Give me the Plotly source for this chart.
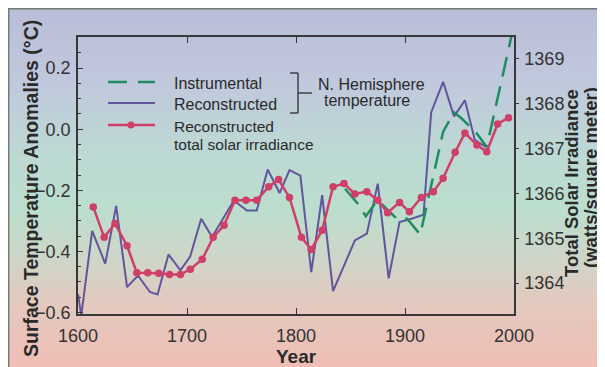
import base64
import plotly.graph_objects as go

# ---------------- data ----------------
recon_years = [1600, 1603, 1613, 1625, 1635, 1645, 1655, 1666, 1673, 1683, 1694, 1703,
               1713, 1723, 1733, 1743, 1755, 1764, 1774, 1785, 1794, 1804, 1814, 1824,
               1834, 1854, 1865, 1875, 1885, 1895, 1906, 1917, 1924, 1935, 1945, 1955,
               1964, 1974]
recon_temp = [-0.54, -0.61, -0.333, -0.44, -0.251, -0.517, -0.479, -0.533, -0.541, -0.41,
              -0.462, -0.416, -0.293, -0.353, -0.293, -0.233, -0.266, -0.266, -0.132,
              -0.209, -0.134, -0.152, -0.468, -0.216, -0.53, -0.364, -0.342, -0.178,
              -0.488, -0.304, -0.293, -0.28, 0.055, 0.155, 0.042, 0.095, -0.035, -0.058]

instr_years = [1845, 1857, 1864, 1875, 1893, 1902, 1914, 1935, 1945, 1952, 1965, 1975, 1998]
instr_temp = [-0.195, -0.245, -0.285, -0.232, -0.295, -0.293, -0.345, -0.008, 0.055,
              0.035, -0.01, -0.058, 0.31]

solar_years = [1614, 1624, 1634, 1645, 1654, 1664, 1674, 1684, 1694, 1703, 1714, 1724,
               1734, 1744, 1754, 1764, 1775, 1784, 1794, 1805, 1814, 1824, 1834, 1844,
               1854, 1865, 1875, 1884, 1895, 1904, 1915, 1926, 1935, 1946, 1955, 1966,
               1975, 1985, 1995]
solar_tsi = [1365.70, 1365.02, 1365.33, 1364.83, 1364.23, 1364.23, 1364.22, 1364.19,
             1364.19, 1364.31, 1364.53, 1365.02, 1365.29, 1365.85, 1365.85, 1365.85,
             1366.15, 1366.31, 1365.91, 1365.02, 1364.75, 1365.18, 1366.15, 1366.22,
             1365.99, 1366.04, 1365.85, 1365.57, 1365.80, 1365.59, 1365.91, 1366.04,
             1366.34, 1366.92, 1367.35, 1367.08, 1366.93, 1367.55, 1367.69]

x_ticks = [1600, 1700, 1800, 1900, 2000]
tsi_ticks = [1364, 1365, 1366, 1367, 1368, 1369]

# ---------------- styling ----------------
OFF = 8                      # browser body margin
PAGE_W, PAGE_H = 605, 367
W, H = PAGE_W - OFF, PAGE_H - OFF
PL, PR, PT, PB = 78, 514, 37, 314      # plot frame in page pixels
ML, MT = PL - OFF, PT - OFF
PW, PH = PR - PL, PB - PT
MR, MB = W - ML - PW, H - MT - PH

GREEN = "#1f8c62"
PURPLE = "#62559c"
RED = "#cf3f68"
AX = "#383838"
TXT = "#2a2a2a"
FONT = "Liberation Sans, Arial, Helvetica, sans-serif"


def fx(px):
    return (px - PL) / PW


def fy(py):
    return (PB - py) / PH


# gradient background as an svg image covering the whole figure
svg = (
    f"<svg xmlns='http://www.w3.org/2000/svg' width='{W}' height='{H}' "
    f"viewBox='0 0 {W} {H}' preserveAspectRatio='none'>"
    "<defs><linearGradient id='g' x1='0' y1='0' x2='0' y2='1'>"
    "<stop offset='0' stop-color='rgb(186,189,216)'/>"
    "<stop offset='0.2' stop-color='rgb(192,200,221)'/>"
    "<stop offset='0.39' stop-color='rgb(189,216,212)'/>"
    "<stop offset='0.56' stop-color='rgb(187,222,206)'/>"
    "<stop offset='0.70' stop-color='rgb(206,214,200)'/>"
    "<stop offset='0.81' stop-color='rgb(226,202,192)'/>"
    "<stop offset='1' stop-color='rgb(240,190,181)'/>"
    "</linearGradient></defs>"
    f"<rect width='{W}' height='{H}' fill='url(#g)'/>"
    f"<path d='M0.7,{H} V0.7 H{W}' stroke='#777' stroke-width='1.4' fill='none'/>"
    "</svg>"
)
bg_src = "data:image/svg+xml;base64," + base64.b64encode(svg.encode()).decode()

fig = go.Figure()

fig.add_trace(go.Scatter(
    x=recon_years, y=recon_temp, mode="lines",
    line=dict(color=PURPLE, width=2), name="Reconstructed", showlegend=False))
fig.add_trace(go.Scatter(
    x=instr_years, y=instr_temp, mode="lines",
    line=dict(color=GREEN, width=2.5, dash="20px,10px"), name="Instrumental",
    showlegend=False))
fig.add_trace(go.Scatter(
    x=solar_years, y=solar_tsi, mode="lines+markers", yaxis="y2",
    line=dict(color=RED, width=2.5), marker=dict(color=RED, size=7.5),
    name="Reconstructed total solar irradiance", showlegend=False))

shapes = []
# manual legend samples
shapes.append(dict(type="line", xref="paper", yref="paper", x0=fx(108), x1=fx(155),
                   y0=fy(82), y1=fy(82), line=dict(color=GREEN, width=2.5, dash="19px,11px")))
shapes.append(dict(type="line", xref="paper", yref="paper", x0=fx(108), x1=fx(155),
                   y0=fy(103), y1=fy(103), line=dict(color=PURPLE, width=2)))
shapes.append(dict(type="line", xref="paper", yref="paper", x0=fx(108), x1=fx(155),
                   y0=fy(125), y1=fy(125), line=dict(color=RED, width=2.5)))
shapes.append(dict(type="circle", xref="paper", yref="paper", x0=fx(127.5), x1=fx(134.5),
                   y0=fy(128.5), y1=fy(121.5), fillcolor=RED, line=dict(color=RED, width=0)))
# bracket
for (x0, y0, x1, y1) in [(290, 73, 298, 73), (298, 73, 298, 113), (290, 113, 298, 113),
                         (298, 93, 312, 93)]:
    shapes.append(dict(type="line", xref="paper", yref="paper", x0=fx(x0), x1=fx(x1),
                       y0=fy(y0), y1=fy(y1), line=dict(color=AX, width=1.4)))

annotations = []


def label(text, px, py, size=16, bold=False, angle=0, xanchor="left"):
    annotations.append(dict(
        text=text, x=fx(px), y=fy(py), xref="paper", yref="paper", showarrow=False,
        xanchor=xanchor, yanchor="middle", textangle=angle,
        font=dict(family=FONT, size=size, color=TXT, weight="bold" if bold else "normal")))


label("Instrumental", 172, 83)
label("Reconstructed", 172, 104)
label("Reconstructed", 172, 126.5, size=15.5)
label("total solar irradiance", 172, 144, size=15.5)
label("N. Hemisphere", 316, 84)
label("temperature", 322, 100)
label("Surface Temperature Anomalies (°C)", 31, 189, size=19.5, bold=True, angle=-90,
      xanchor="center")
label("Total Solar Irradiance", 572, 183, size=18.5, bold=True, angle=-90, xanchor="center")
label("(watts/square meter)", 590, 178, size=18.5, bold=True, angle=-90, xanchor="center")
label("Year", 296, 356, size=19, bold=True, xanchor="center")

fig.update_layout(
    width=W, height=H, autosize=False,
    margin=dict(l=ML, r=MR, t=MT, b=MB, pad=0),
    paper_bgcolor="white", plot_bgcolor="rgba(0,0,0,0)",
    font=dict(family=FONT, color="#333333"),
    images=[dict(source=bg_src, xref="paper", yref="paper", x=fx(OFF), y=fy(OFF),
                 sizex=W / PW, sizey=H / PH, xanchor="left", yanchor="top",
                 sizing="stretch", layer="below")],
    shapes=shapes,
    annotations=annotations,
    xaxis=dict(range=[1600, 2000], tickmode="array", tickvals=x_ticks,
               ticks="inside", ticklen=6, tickwidth=1.4, tickcolor=AX,
               showline=True, linecolor=AX, linewidth=1.5, mirror="ticks",
               showgrid=False, zeroline=False,
               tickfont=dict(size=18, color="#333333"), ticklabelstandoff=5),
    yaxis=dict(range=[-0.605, 0.302], tickmode="linear", tick0=-0.6, dtick=0.2,
               tickformat=".1f", ticks="inside", ticklen=5, tickwidth=1.4, tickcolor=AX,
               minor=dict(dtick=0.05, tick0=-0.6, ticks="inside", ticklen=3,
                          tickwidth=1.2, tickcolor=AX),
               showline=True, linecolor=AX, linewidth=1.5,
               showgrid=False, zeroline=False,
               tickfont=dict(size=18, color="#333333"), ticklabelstandoff=2),
    yaxis2=dict(range=[1363.31, 1369.49], overlaying="y", side="right",
                tickmode="array", tickvals=tsi_ticks, ticks="outside", ticklen=3,
                tickwidth=1.4, tickcolor=AX,
                showline=True, linecolor=AX, linewidth=1.5,
                showgrid=False, zeroline=False,
                tickfont=dict(size=18, color="#333333"), ticklabelstandoff=2),
)

fig.write_html("out.html")
